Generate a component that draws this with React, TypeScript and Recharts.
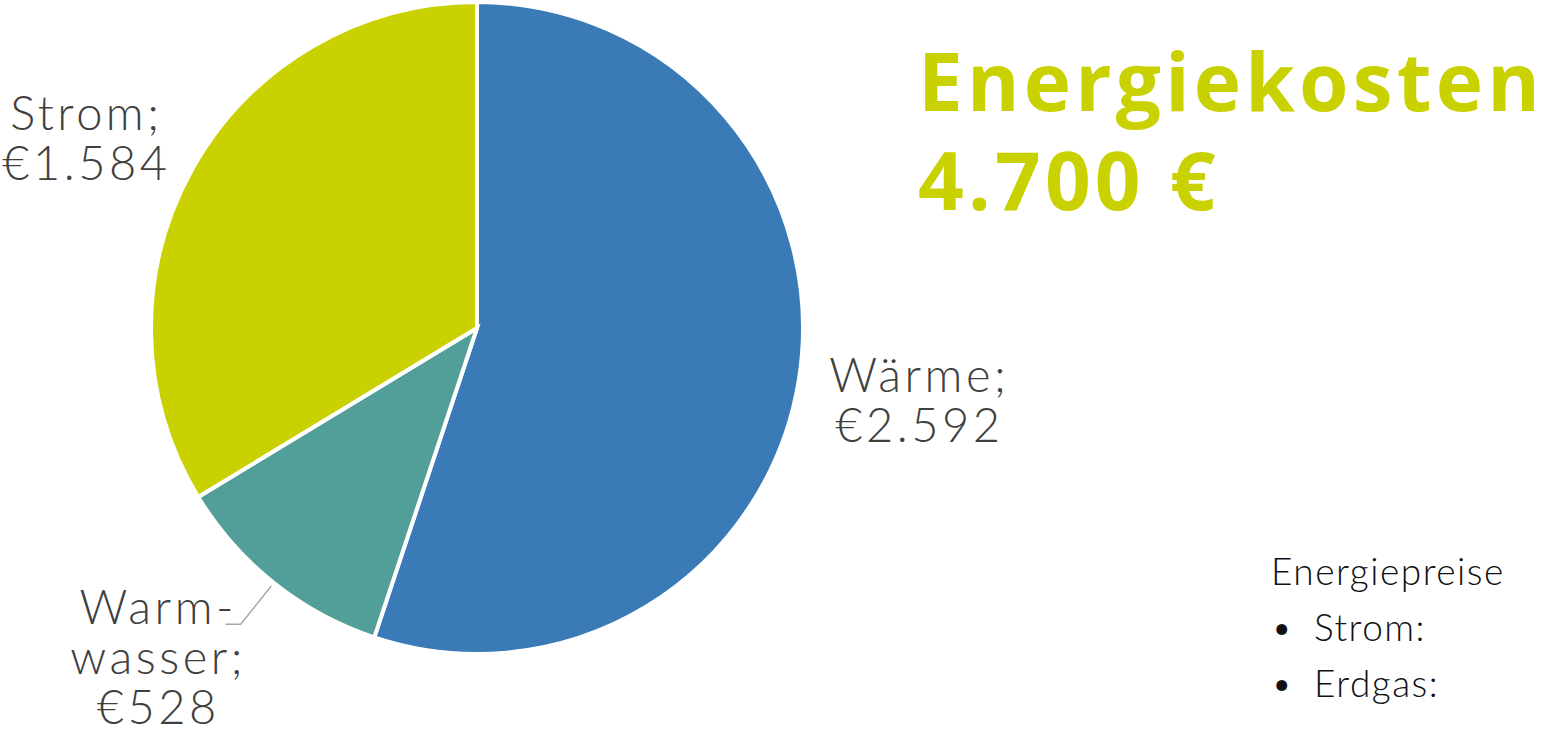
import * as React from 'react';
import { PieChart, Pie, Cell } from 'recharts';

const categories = ['Wärme', 'Warmwasser', 'Strom'];
const costs = [2592, 528, 1584];
const labelLines = [['Wärme;', '€2.592'], ['Warm-', 'wasser;', '€528'], ['Strom;', '€1.584']];
const totalLabel = '4.700 €';
const priceItems = ['Strom:', 'Erdgas:'];

const COLORS = ['#3A7AB6', '#529E98', '#C9D100'];
const TEXT = '#404040';
const RAD = Math.PI / 180;

// label placement per slice: distance beyond the rim, nudges, leader line
const LABEL_POS = [
  { radial: 120, dx: 2, dy: -7, leader: false },
  { radial: 460, dx: -32, dy: -64, leader: true },
  { radial: 112, dx: -9, dy: 17, leader: false },
];

const data = categories.map((name, i) => ({ name, value: costs[i] }));

function renderLabel(props: any) {
  const { cx, cy, midAngle, outerRadius, index } = props;
  const pos = LABEL_POS[index];
  const cos = Math.cos(-midAngle * RAD);
  const sin = Math.sin(-midAngle * RAD);
  const r = index === 1 ? pos.radial : outerRadius + pos.radial;
  const x = cx + r * cos + pos.dx;
  const y = cy + r * sin + pos.dy;
  const lines = labelLines[index];
  let leader = null;
  if (pos.leader) {
    const sx = cx + (outerRadius + 4) * cos;
    const sy = cy + (outerRadius + 4) * sin;
    const ex = cx + (outerRadius + 53) * cos;
    const ey = cy + (outerRadius + 53) * sin;
    leader = (
      <polyline
        points={`${sx},${sy} ${ex},${ey} ${ex - 15},${ey}`}
        fill="none"
        stroke="#A6A6A6"
        strokeWidth={1.5}
      />
    );
  }
  return (
    <g key={`label-${index}`}>
      {leader}
      {lines.map((line, i) => (
        <text
          key={line}
          x={x}
          y={y + i * 50}
          textAnchor="middle"
          fill={TEXT}
          fontSize={47}
          fontFamily="Lato, sans-serif"
          fontWeight={300}
          letterSpacing={3.5}
        >
          {line}
        </text>
      ))}
    </g>
  );
}

export default function App() {
  return (
    <div style={{ position: 'absolute', left: 0, top: 0, width: 1544, height: 731, background: '#fff', overflow: 'hidden' }}>
      <PieChart width={1544} height={731} margin={{ top: 0, right: 0, bottom: 0, left: 0 }}>
        <Pie
          data={data}
          dataKey="value"
          nameKey="name"
          cx={477}
          cy={328}
          outerRadius={326}
          startAngle={90}
          endAngle={-270}
          stroke="#fff"
          strokeWidth={4}
          label={renderLabel}
          labelLine={false}
          isAnimationActive={false}
        >
          {data.map((_entry, index) => (
            <Cell key={`cell-${String(index)}`} fill={COLORS[index % COLORS.length]} />
          ))}
        </Pie>
      </PieChart>
      <div
        style={{
          position: 'absolute',
          left: 918,
          top: 30,
          color: '#C9D100',
          fontFamily: '"Open Sans", sans-serif',
          fontWeight: 700,
          fontSize: 80,
          lineHeight: '99px',
          letterSpacing: 4.2,
          whiteSpace: 'nowrap',
        }}
      >
        <div>Energiekosten</div>
        <div>{totalLabel}</div>
      </div>
      <div
        style={{
          position: 'absolute',
          left: 1271,
          top: 543,
          color: '#111',
          fontFamily: 'Lato, sans-serif',
          fontWeight: 300,
          fontSize: 37,
          lineHeight: '56px',
          letterSpacing: 1.5,
          whiteSpace: 'nowrap',
        }}
      >
        <div>Energiepreise</div>
        {priceItems.map((item) => (
          <div key={item} style={{ display: 'flex' }}>
            <span style={{ width: 43 }}>•</span>
            <span>{item}</span>
          </div>
        ))}
      </div>
    </div>
  );
}
